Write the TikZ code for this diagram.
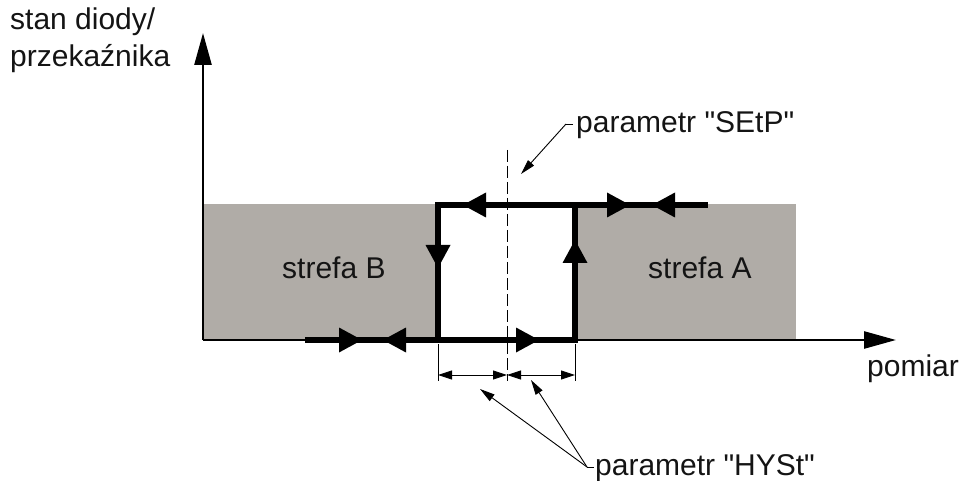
\documentclass[tikz,border=0pt]{standalone}
\usepackage{fontspec}
\setmainfont{Liberation Sans}[Ligatures=TeXOff]
\usetikzlibrary{arrows.meta}
\begin{document}
\begin{tikzpicture}[x=1pt,y=-1pt,
  lbl/.style={anchor=base west,inner sep=0pt,font=\fontsize{30}{36}\selectfont,text=black!92},
  axisline/.style={line width=2.6pt,-{Triangle[length=32pt,width=17pt]}},
  thickline/.style={line width=6.5pt},
  tri/.pic={\fill (0,0) -- (-23,-12.5) -- (-23,12.5) -- cycle;},
  thin/.style={line width=0.9pt},
  dim/.style={line width=0.9pt,{Triangle[length=14pt,width=9pt]}-{Triangle[length=14pt,width=9pt]}},
  leader/.style={line width=0.9pt,-{Triangle[length=15pt,width=8pt]}}]
\useasboundingbox (0,0) rectangle (964,481);
% gray zones
\fill[fill={rgb,255:red,176;green,172;blue,167}] (203,204) rectangle (438,340);
\fill[fill={rgb,255:red,176;green,172;blue,167}] (575,204) rectangle (796,340);
% axes
\coordinate (O) at (203,340);
\coordinate (ytip) at (203,33);
\coordinate (xtip) at (896,340);
\draw[axisline] (O) -- (ytip);
\draw[axisline] (O) -- (xtip);
% dashed setpoint line
\coordinate (d1) at (507,150);
\coordinate (d2) at (507,381);
\draw[thin,dash pattern=on 12pt off 4pt] (d1) -- (d2);
% hysteresis loop
\coordinate (b0) at (305,340);
\coordinate (bl) at (438,340);
\coordinate (br) at (575,340);
\coordinate (tl) at (438,205);
\coordinate (tr) at (575,205);
\coordinate (t1) at (708,205);
\draw[thickline] (b0) -- (br) -- (tr);
\draw[thickline,line join=miter] (bl) -- (tl) -- (t1);
% direction arrows
\pic at (463,205) [rotate=180] {tri};
\pic at (630,205) {tri};
\pic at (652,205) [rotate=180] {tri};
\pic at (438,268) [rotate=-90] {tri};
\pic at (575,240) [rotate=90] {tri};
\pic at (362,340) {tri};
\pic at (383,340) [rotate=180] {tri};
\pic at (539,340) {tri};
% dimension lines
\coordinate (e1a) at (438,344);
\coordinate (e1b) at (438,381);
\coordinate (e2a) at (575,344);
\coordinate (e2b) at (575,381);
\coordinate (m1) at (438,375);
\coordinate (m2) at (507,375);
\coordinate (m3) at (575,375);
\draw[thin] (e1a) -- (e1b);
\draw[thin] (e2a) -- (e2b);
\draw[dim] (m1) -- (m2);
\draw[dim] (m2) -- (m3);
% labels
\node[lbl] (ylab1) at (10,30) {stan diody/};
\node[lbl] (ylab2) at (10,67) {przekaźnika};
\node[lbl] (xlab) at (867,376) {pomiar};
\node[lbl] (zb) at (282,278) {strefa B};
\node[lbl] (za) at (648,278) {strefa A};
\node[lbl] (setp) at (576,133) {parametr "SEtP"};
\node[lbl] (hyst) at (595,475) {parametr "HYSt"};
% leaders
\coordinate (js) at (566,124);
\coordinate (js0) at (573,124);
\coordinate (st) at (521,174);
\draw[thin] (js0) -- (js);
\draw[leader] (js) -- (st);
\coordinate (jh) at (587,467);
\coordinate (jh0) at (594,467);
\coordinate (h1) at (480,389);
\coordinate (h2) at (531,380);
\draw[thin] (jh0) -- (jh);
\draw[leader] (jh) -- (h1);
\draw[leader] (jh) -- (h2);
\end{tikzpicture}
\end{document}
